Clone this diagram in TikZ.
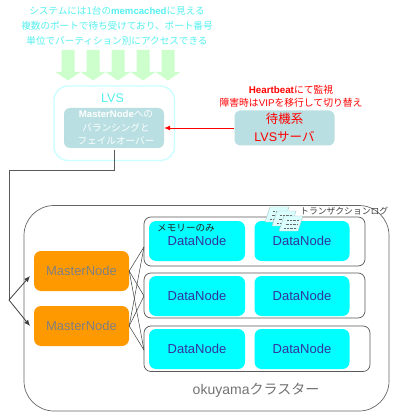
\documentclass[tikz,border=0pt]{standalone}
\usepackage{fontspec}
\setmainfont{Liberation Sans}
\newfontfamily\jpf{Noto Sans CJK JP}[Scale=1.0]
\newcommand{\jt}[1]{{\jpf #1}}
\usetikzlibrary{arrows.meta}
\definecolor{mastorange}{HTML}{FF9900}
\definecolor{dntext}{HTML}{3333A0}
\definecolor{lvsborder}{HTML}{CCFFFF}
\definecolor{tealfill}{HTML}{B9DFE2}
\definecolor{downgreen}{HTML}{CCFFCC}
\definecolor{topcyan}{HTML}{55F0F0}
\definecolor{purecyan}{HTML}{00FFFF}
\tikzset{
 cluster/.style={draw=black!60,line width=0.7pt,rounded corners=30pt,fill=white},
 rowbox/.style={draw=black!65,line width=0.7pt,rounded corners=7pt,fill=white},
 master/.style={fill=mastorange,rounded corners=7pt,text=gray,font=\fontsize{13}{15}\selectfont},
 datanode/.style={fill=purecyan,rounded corners=7pt,text=dntext,font=\fontsize{13}{15}\selectfont},
 lvsbox/.style={draw=lvsborder,line width=1.4pt,rounded corners=14pt},
 tealbox/.style={fill=tealfill,rounded corners=6pt},
 conn/.style={draw=black!75,line width=0.5pt},
 feed/.style={draw=black!75,line width=0.8pt,-{Latex[length=6pt,width=5pt]}},
 down/.style={fill=downgreen},
 sheet/.style={draw=tealfill!70!gray,fill=lvsborder!70,line width=0.4pt},
 lab/.style={inner sep=0pt,align=center},
}
\begin{document}
\begin{tikzpicture}[x=1pt,y=-1pt]
\useasboundingbox (0,0) rectangle (400,419);
\fill[white] (0,0) rectangle (400,419);
% top text
\node[lab,text=topcyan,font=\fontsize{9.6}{15.3}\selectfont] (toptext) at (117,26) {\jt{システムには1台の}\textbf{memcached}\jt{に見える}\\\jt{複数のポートで待ち受けており、ポート番号}\\\jt{単位でパーティション別にアクセスできる}};
% block arrows
\foreach \n/\cx in {1/68,2/93,3/118,4/143,5/168}{
 \fill[down] (\cx-6.5,50) -- (\cx+6.5,50) -- (\cx+6.5,72) -- (\cx+12.5,72) -- (\cx,80.5) -- (\cx-12.5,72) -- (\cx-6.5,72) -- cycle;
}
% LVS
\draw[lvsbox] (54,86) rectangle (174.5,160.5);
\node[lab,text=topcyan,font=\fontsize{12.5}{14}\selectfont] (lvslabel) at (112.5,98) {LVS};
\node[tealbox,minimum width=100pt,minimum height=40pt,inner sep=0pt] (lvsinner) at (114,128) {};
\node[lab,text=white,font=\fontsize{9.6}{13.4}\selectfont] (lvsinnertext) at (116,128) {\textbf{MasterNode}\jt{への}\\\jt{バランシングと}\\\jt{フェイルオーバー}};
\node[tealbox,minimum width=100pt,minimum height=35pt,inner sep=0pt,text=red,align=center,font=\fontsize{12.5}{18}\selectfont] (standby) at (284.5,128) {\jt{待機系}\\LVS\jt{サーバ}};
\node[lab,text=red,font=\fontsize{9.8}{13}\selectfont] (hb) at (291,96) {\textbf{Heartbeat}\jt{にて監視}\\\jt{障害時は}VIP\jt{を移行して切り替え}};
\draw[draw=red,line width=0.8pt,-{Latex[length=6pt,width=5pt]}] (standby.west) -- (lvsinner.east);
% cluster
\draw[cluster] (24,205.5) rectangle (389,411);
\draw[rowbox] (144,217) rectangle (365,266);
\draw[rowbox] (144,273) rectangle (365,318);
\draw[rowbox] (144,326) rectangle (370,371.5);
\coordinate (r1) at (144,247);
\coordinate (r2) at (144,296);
\coordinate (r3) at (144,350);
\foreach \n/\y in {a/241,b/296,c/349}{
 \node[datanode,minimum width=96pt,minimum height=40pt,inner sep=0pt] (d1\n) at (197,\y) {DataNode};
 \node[datanode,minimum width=95pt,minimum height=40pt,inner sep=0pt] (d2\n) at (302,\y) {DataNode};
}
\node[master,minimum width=95pt,minimum height=40pt,inner sep=0pt] (m1) at (81.5,271) {MasterNode};
\node[master,minimum width=95pt,minimum height=40pt,inner sep=0pt] (m2) at (81.5,326) {MasterNode};
\foreach \m in {m1,m2}\foreach \r in {r1,r2,r3}{\draw[conn] (\m.east) -- (\r);}
% feed line
\coordinate (fork) at (9,300);
\draw[draw=black!65,line width=0.8pt] (lvsinner.south) ++(0,2) -- (114,170.5) -- (9,170.5) -- (fork);
\coordinate (e1) at (30,276);
\coordinate (e2) at (30,326);
\draw[feed] (fork) -- (e1);
\draw[feed] (fork) -- (e2);
% labels
\node[lab,anchor=west,font=\fontsize{9.6}{10}\selectfont,text=black!85] (mem) at (157,228) {\jt{メモリーのみ}};
\node[lab,anchor=west,font=\fontsize{8.8}{10}\selectfont,text=black!75] (tx) at (300,211) {\jt{トランザクションログ}};
\node[lab,font=\fontsize{14}{15}\selectfont,text=black!55] (clname) at (256,390) {okuyama\jt{クラスター}};
% sheets
\foreach \ox/\oy in {0/0,7/4,14/9}{
 \begin{scope}[shift={(\ox,\oy)}]
 \draw[sheet] (270,207) -- (289,207) -- (284,222) -- (265,222) -- cycle;
 \draw[black!60,densely dotted,line width=0.4pt] (273,211) -- (285,211) (271.5,215) -- (284,215) (270,219) -- (282,219);
 \end{scope}
}
\end{tikzpicture}
\end{document}
